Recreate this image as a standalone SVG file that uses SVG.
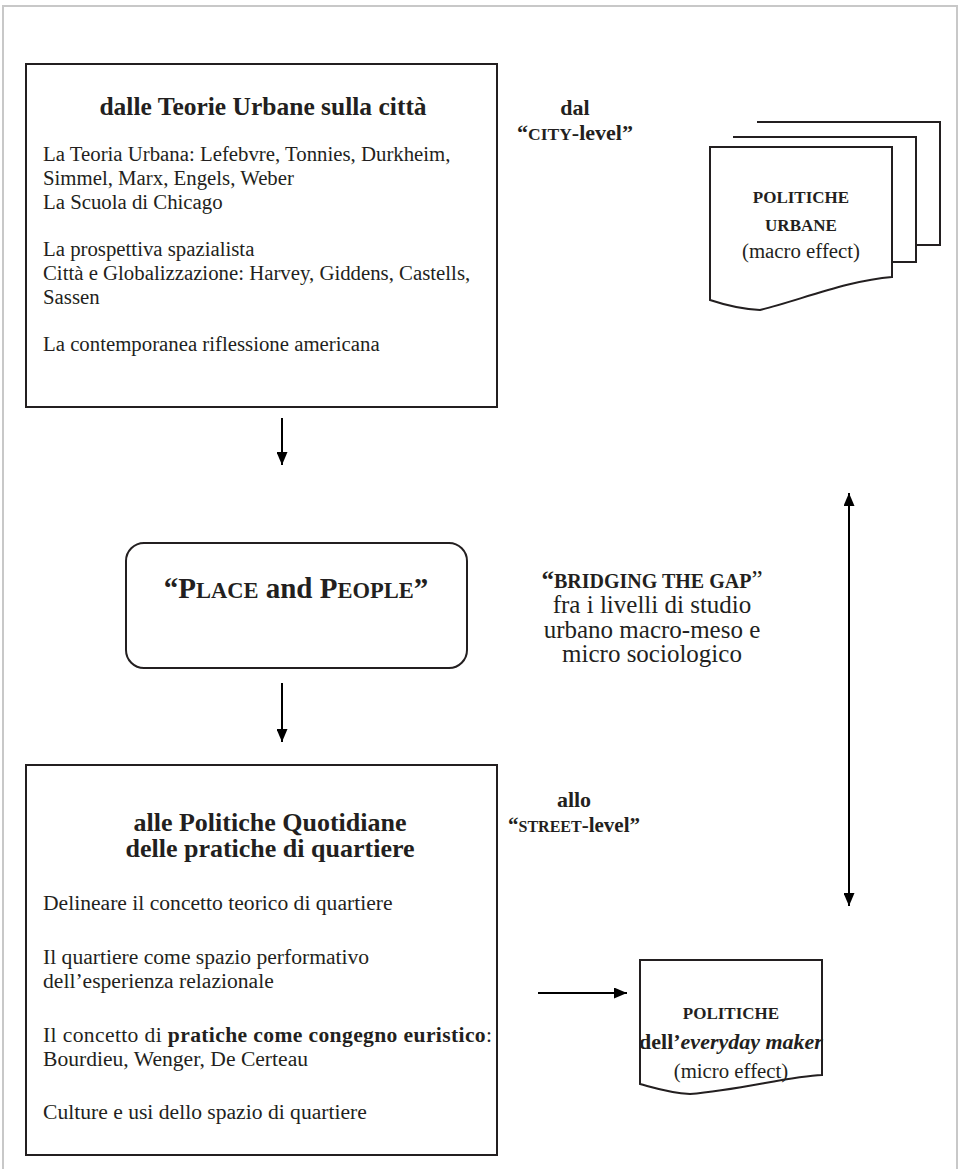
<svg xmlns="http://www.w3.org/2000/svg" width="970" height="1169" viewBox="0 0 970 1169" font-family="'Liberation Serif','Times New Roman',serif">
<style>
text{font-family:"Liberation Serif","Times New Roman",serif;fill:#231f20}
.t{font-size:20.8px}
.tb{font-size:21.6px}
.b{font-weight:bold}
.h{font-size:25.5px;font-weight:bold}
.h2{font-size:26px;font-weight:bold}
.sc{font-size:16px}
.r{font-size:25px}
.box{fill:#fff;stroke:#231f20;stroke-width:2}
.ln{stroke:#000;stroke-width:2;fill:none}
</style>
<defs>
<marker id="ah" viewBox="0 0 13 11" refX="13" refY="5.5" markerWidth="13" markerHeight="11" markerUnits="userSpaceOnUse" orient="auto-start-reverse">
<path d="M0,0 L13,5.5 L0,11 Z" fill="#000"/>
</marker>
</defs>
<rect x="3" y="6" width="954" height="1175" fill="#fff" stroke="#c8c8c8" stroke-width="2"/>

<g id="teorie">
<rect class="box" x="26" y="64" width="471" height="343"/>
<text class="h" x="263" y="115" text-anchor="middle">dalle Teorie Urbane sulla città</text>
<text class="t" x="43" y="161">La Teoria Urbana: Lefebvre, Tonnies, Durkheim,</text>
<text class="t" x="43" y="185">Simmel, Marx, Engels, Weber</text>
<text class="t" x="43" y="209">La Scuola di Chicago</text>
<text class="t" x="43" y="256">La prospettiva spazialista</text>
<text class="t" x="43" y="280">Città e Globalizzazione: Harvey, Giddens, Castells,</text>
<text class="t" x="43" y="304">Sassen</text>
<text class="t" x="43" y="351">La contemporanea riflessione americana</text>
</g>

<g id="city-level">
<text class="b" x="575" y="115" text-anchor="middle" font-size="22">dal</text>
<text class="b" x="575" y="140" text-anchor="middle" font-size="22">“<tspan font-size="17.5">CITY</tspan>-level”</text>
</g>

<g id="politiche-urbane">
<path class="box" d="M757,122 H940 V245 H916"/>
<path class="box" d="M733,137 H916 V262 H892"/>
<path class="box" d="M710,147 H892 V277 C850,280 800,300 760,310 C740,309 725,305 710,300 Z"/>
<text class="b" x="801" y="203" text-anchor="middle" font-size="17">POLITICHE</text>
<text class="b" x="801" y="231" text-anchor="middle" font-size="17">URBANE</text>
<text class="t" x="801" y="258" text-anchor="middle" font-size="22">(macro effect)</text>
</g>

<g id="place-people">
<rect class="box" x="126" y="543" width="341" height="125" rx="18"/>
<text class="b" x="296" y="598" text-anchor="middle" font-size="29">“P<tspan font-size="22.5">LACE</tspan> and P<tspan font-size="22.5">EOPLE</tspan>”</text>
</g>

<g id="bridging">
<text class="r" x="652" y="588" text-anchor="middle"><tspan class="b">“</tspan><tspan class="b" font-size="20">BRIDGING THE GAP</tspan>”</text>
<text class="r" x="652" y="613" text-anchor="middle">fra i livelli di studio</text>
<text class="r" x="652" y="638" text-anchor="middle">urbano macro-meso e</text>
<text class="r" x="652" y="662" text-anchor="middle">micro sociologico</text>
</g>

<g id="quotidiane">
<rect class="box" x="26" y="765" width="471" height="390"/>
<text class="h2" x="270" y="831" text-anchor="middle">alle Politiche Quotidiane</text>
<text class="h2" x="270" y="857" text-anchor="middle">delle pratiche di quartiere</text>
<text class="tb" x="43" y="910">Delineare il concetto teorico di quartiere</text>
<text class="tb" x="43" y="964">Il quartiere come spazio performativo</text>
<text class="tb" x="43" y="988">dell’esperienza relazionale</text>
<text class="tb" x="43" y="1042" textLength="449" lengthAdjust="spacing">Il concetto di <tspan class="b">pratiche come congegno euristico</tspan>:</text>
<text class="tb" x="43" y="1066">Bourdieu, Wenger, De Certeau</text>
<text class="tb" x="43" y="1119">Culture e usi dello spazio di quartiere</text>
</g>

<g id="street-level">
<text class="b" x="574" y="807" text-anchor="middle" font-size="22">allo</text>
<text class="b" x="574" y="832" text-anchor="middle" font-size="21">“<tspan class="sc">STREET</tspan>-level”</text>
</g>

<g id="politiche-everyday">
<path class="box" d="M640,960 H822 V1075 C790,1076 740,1090 690,1094 C670,1093 655,1088 640,1084 Z"/>
<text class="b" x="731" y="1019" text-anchor="middle" font-size="17">POLITICHE</text>
<text class="b" x="731" y="1049" text-anchor="middle" font-size="22">dell’<tspan font-style="italic">everyday maker</tspan></text>
<text class="t" x="731" y="1078" text-anchor="middle" font-size="22">(micro effect)</text>
</g>

<g id="connectors">
<line class="ln" x1="282" y1="418" x2="282" y2="465" marker-end="url(#ah)"/>
<line class="ln" x1="282" y1="683" x2="282" y2="742" marker-end="url(#ah)"/>
<line class="ln" x1="538" y1="993" x2="627" y2="993" marker-end="url(#ah)"/>
<line class="ln" x1="849" y1="493" x2="849" y2="906" marker-start="url(#ah)" marker-end="url(#ah)"/>
</g>
</svg>
